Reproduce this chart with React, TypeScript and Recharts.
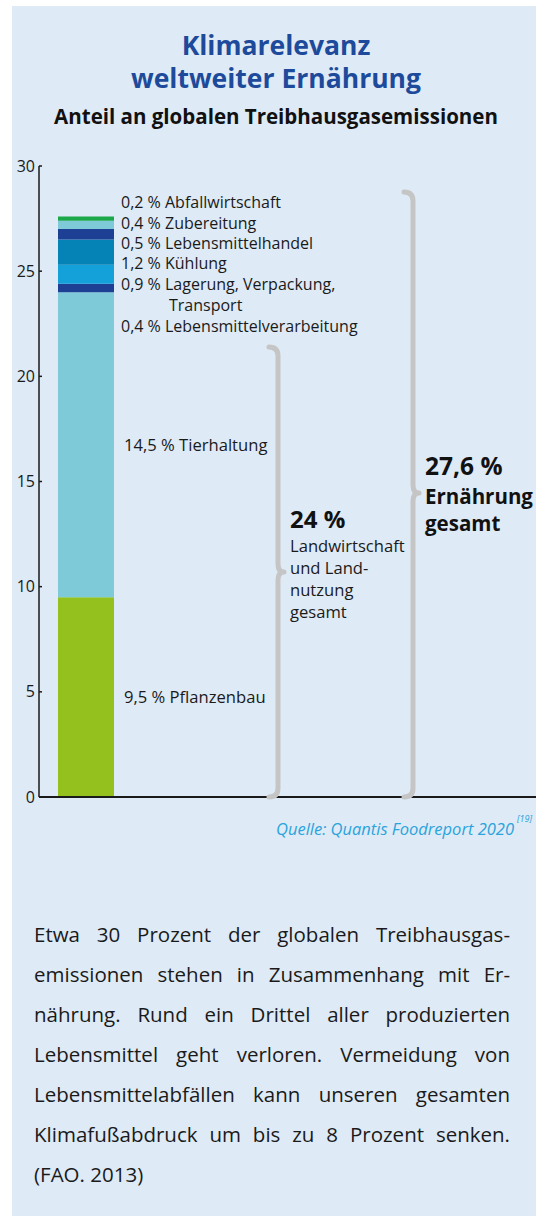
import React from 'react';
import { BarChart, Bar, XAxis, YAxis, LabelList } from 'recharts';

const CATEGORIES = ['Ernährung weltweit'];
const SEGMENT_KEYS = ['pflanzenbau', 'tierhaltung', 'verarbeitung', 'lagerung', 'kuehlung', 'handel', 'zubereitung', 'abfall'];
const SEGMENT_VALUES = [9.5, 14.5, 0.4, 0.9, 1.2, 0.5, 0.4, 0.2];
const SEGMENT_NAMES = ['Pflanzenbau', 'Tierhaltung', 'Lebensmittelverarbeitung', 'Lagerung, Verpackung, Transport', 'Kühlung', 'Lebensmittelhandel', 'Zubereitung', 'Abfallwirtschaft'];
const SEGMENT_COLORS = ['#95c11f', '#7ecad8', '#1d3f94', '#14a0d8', '#0582b6', '#1d3f94', '#7ecad8', '#1ba84a'];
const Y_TICKS = [0, 5, 10, 15, 20, 25, 30];

const data = CATEGORIES.map((name) => {
  const row: Record<string, any> = { name };
  SEGMENT_KEYS.forEach((k, i) => { row[k] = SEGMENT_VALUES[i]; });
  return row;
});

const W = 536;
const H = 1216;
const PLOT_TOP = 166;
const PLOT_BOTTOM = 797;
const FONT = '"Open Sans", "Noto Sans", sans-serif';
const LABEL_SIZE = 16.6;
const STACK_LABEL_SIZE = 16;

const YTick = (props: any) => {
  const { x, y, payload } = props;
  return (
    <g>
      <text x={x} y={y} dy={5.5} textAnchor="end" fontSize={16} fontFamily={FONT} fill="#1a1a1a">{payload.value}</text>
      <line x1={x + 4} x2={x + 7} y1={y} y2={y} stroke="#1a1a1a" strokeWidth={1.5} />
    </g>
  );
};

const brace = (x: number, yTop: number, yMid: number, yBot: number) => {
  const r = 9;
  return `M ${x - 9} ${yTop} Q ${x} ${yTop} ${x} ${yTop + r} L ${x} ${yMid - 8} Q ${x} ${yMid} ${x + 6} ${yMid} Q ${x} ${yMid} ${x} ${yMid + 8} L ${x} ${yBot - r} Q ${x} ${yBot} ${x - 9} ${yBot}`;
};

const smallLabels = [
  { t: '0,2 % Abfallwirtschaft', y: 203, x: 121 },
  { t: '0,4 % Zubereitung', y: 224, x: 121 },
  { t: '0,5 % Lebensmittelhandel', y: 244, x: 121 },
  { t: '1,2 % Kühlung', y: 264, x: 121 },
  { t: '0,9 % Lagerung, Verpackung,', y: 285, x: 121 },
  { t: 'Transport', y: 306, x: 169 },
  { t: '0,4 % Lebensmittelverarbeitung', y: 327, x: 121 },
];

const paragraph = [
  'Etwa 30 Prozent der globalen Treibhausgas-',
  'emissionen stehen in Zusammenhang mit Er-',
  'nährung. Rund ein Drittel aller produzierten',
  'Lebensmittel geht verloren. Vermeidung von',
  'Lebensmittelabfällen kann unseren gesamten',
  'Klimafußabdruck um bis zu 8 Prozent senken.',
  '(FAO. 2013)',
];

export default function App() {
  return (
    <div style={{ position: 'absolute', left: 0, top: 0, width: W, height: H, background: '#ffffff', overflow: 'hidden' }}>
      <div style={{ position: 'absolute', left: 12, top: 6, width: W - 12, height: H - 6, background: '#deeaf6' }} />
      <div style={{ position: 'absolute', left: 0, top: 0 }}>
        <BarChart width={W} height={H} data={data} margin={{ top: PLOT_TOP, bottom: H - PLOT_BOTTOM - 1, left: 9, right: 0 }} barCategoryGap={0}>
          <XAxis dataKey="name" type="category" height={1} tick={false} tickLine={false} axisLine={{ stroke: '#1a1a1a', strokeWidth: 2 }} padding={{ left: 16, right: 419 }} />
          <YAxis type="number" domain={[0, 30]} ticks={Y_TICKS} width={30} tickSize={0} tickMargin={4} tickLine={false} axisLine={{ stroke: '#1a1a1a', strokeWidth: 1.5 }} tick={<YTick />} interval={0} />
          {SEGMENT_KEYS.map((k, i) => (
            <Bar key={k} dataKey={k} stackId="a" fill={SEGMENT_COLORS[i]} barSize={56} isAnimationActive={false}>
              {(k === 'pflanzenbau' || k === 'tierhaltung') && (
                <LabelList dataKey={k} position="right" offset={10} formatter={(v: any) => `${String(v).replace('.', ',')} % ${SEGMENT_NAMES[i]}`} style={{ fontSize: LABEL_SIZE, fontFamily: FONT, fill: '#1a1a1a' }} />
              )}
            </Bar>
          ))}
        </BarChart>
      </div>
      <svg width={W} height={H} style={{ position: 'absolute', left: 0, top: 0, pointerEvents: 'none' }}>
        <text x={276} y={45} dy={9.5} textAnchor="middle" fontSize={26.5} fontWeight={700} fontFamily={FONT} fill="#1d4a9b">Klimarelevanz</text>
        <text x={276} y={78} dy={9.5} textAnchor="middle" fontSize={26.5} fontWeight={700} fontFamily={FONT} fill="#1d4a9b">weltweiter Ernährung</text>
        <text x={276} y={117} dy={7} textAnchor="middle" fontSize={20.5} fontWeight={700} fontFamily={FONT} fill="#111">Anteil an globalen Treibhausgasemissionen</text>
        {smallLabels.map((l) => (
          <text key={l.t} x={l.x} y={l.y} dy={5.3} fontSize={STACK_LABEL_SIZE} fontFamily={FONT} fill="#1a1a1a">{l.t}</text>
        ))}
        <path d={brace(278, 347, 572, 797)} fill="none" stroke="#c5c5c5" strokeWidth={5} strokeLinecap="round" strokeLinejoin="round" />
        <path d={brace(413, 192, 493, 797)} fill="none" stroke="#c5c5c5" strokeWidth={5} strokeLinecap="round" strokeLinejoin="round" />
        <text x={290} y={520} dy={8} fontSize={24} fontWeight={700} fontFamily={FONT} fill="#111">24 %</text>
        {['Landwirtschaft', 'und Land-', 'nutzung', 'gesamt'].map((t, i) => (
          <text key={t} x={290} y={546 + i * 22} dy={5.5} fontSize={LABEL_SIZE} fontFamily={FONT} fill="#1a1a1a">{t}</text>
        ))}
        <text x={425} y={467} dy={8} fontSize={24.5} fontWeight={700} fontFamily={FONT} fill="#111">27,6 %</text>
        <text x={425} y={497} dy={7} fontSize={20.5} fontWeight={700} fontFamily={FONT} fill="#111">Ernährung</text>
        <text x={425} y={524} dy={7} fontSize={20.5} fontWeight={700} fontFamily={FONT} fill="#111">gesamt</text>
        <text x={514} y={829} dy={5.5} textAnchor="end" fontSize={16.5} fontStyle="italic" fontFamily={FONT} fill="#2aa4dc">Quelle: Quantis Foodreport 2020</text>
        <text x={517} y={822} fontSize={9} fontStyle="italic" fontFamily={FONT} fill="#2aa4dc">[19]</text>
      </svg>
      <div style={{ position: 'absolute', left: 34, top: 914, width: 476, fontFamily: FONT, fontSize: 20.5, lineHeight: '40px', color: '#1a1a1a' }}>
        {paragraph.map((line, i) => (
          <div key={i} style={{ textAlign: 'justify', textAlignLast: i < paragraph.length - 1 ? 'justify' : 'left', whiteSpace: 'nowrap' as any }}>{line}</div>
        ))}
      </div>
    </div>
  );
}
